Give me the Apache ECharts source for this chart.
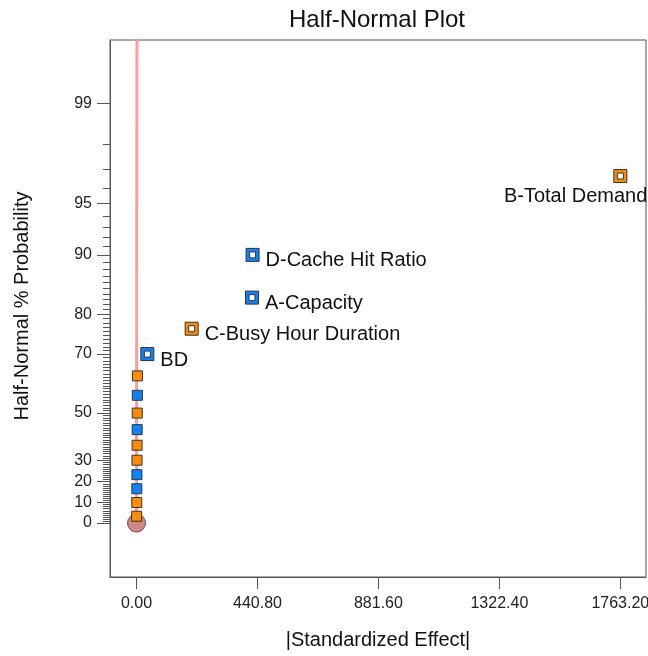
<!DOCTYPE html>
<html>
<head>
<meta charset="utf-8">
<script src="https://cdn.jsdelivr.net/npm/echarts@6/dist/echarts.min.js"></script>
<style>
    html, body { margin: 0; padding: 0; background: #fff; }
    #chart { width: 648px; height: 656px; }
</style>
</head>
<body>
<div id="chart"></div>
<script>
    // effects, sorted by |effect| (rank 1 .. 15)
    const effectNames = ['', '', '', '', '', '', '', '', '', '',
        'BD', 'C-Busy Hour Duration', 'A-Capacity', 'D-Cache Hit Ratio', 'B-Total Demand'];
    const effectSize = [0.6, 0.9, 1.2, 1.5, 1.8, 2.1, 2.4, 2.7, 3.0, 3.3,
        39.4, 201, 421, 423, 1763.2];
    const effectPositive = [1, 1, 0, 0, 1, 1, 0, 1, 0, 1, 0, 1, 0, 0, 1];
    const halfNormalPct = [3.33, 10, 16.67, 23.33, 30, 36.67, 43.33, 50, 56.67, 63.33,
        70, 76.67, 83.33, 90, 96.67];

    // reference line through origin
    const refLineEffect = [0, 1.5];
    const refLinePct = [0, 99.7];

    // axis ticks
    const xTicks = [0, 440.8, 881.6, 1322.4, 1763.2];
    const yMajorPct = [0, 10, 20, 30, 50, 70, 80, 90, 95, 99];
    const yMinorPct = [];
    for (let i = 1; i < 99; i++) {
        if (yMajorPct.indexOf(i) < 0) yMinorPct.push(i);
    }

    const ORANGE = '#ff8c00';
    const BLUE = '#0a84ff';
    const EDGE = '#333333';
    const FONT = 'Arial, "Liberation Sans", sans-serif';

    // inverse normal cdf (Acklam)
    function normInv(p) {
        const a = [-3.969683028665376e+01, 2.209460984245205e+02, -2.759285104469687e+02, 1.383577518672690e+02, -3.066479806614716e+01, 2.506628277459239e+00];
        const b = [-5.447609879822406e+01, 1.615858368580409e+02, -1.556989798598866e+02, 6.680131188771972e+01, -1.328068155288572e+01];
        const c = [-7.784894002430293e-03, -3.223964580411365e-01, -2.400758277161838e+00, -2.549732539343734e+00, 4.374664141464968e+00, 2.938163982698783e+00];
        const d = [7.784695709041462e-03, 3.224671290700398e-01, 2.445134137142996e+00, 3.754408661907416e+00];
        const pl = 0.02425, ph = 1 - pl;
        let q, r;
        if (p < pl) {
            q = Math.sqrt(-2 * Math.log(p));
            return (((((c[0] * q + c[1]) * q + c[2]) * q + c[3]) * q + c[4]) * q + c[5]) / ((((d[0] * q + d[1]) * q + d[2]) * q + d[3]) * q + 1);
        }
        if (p <= ph) {
            q = p - 0.5; r = q * q;
            return (((((a[0] * r + a[1]) * r + a[2]) * r + a[3]) * r + a[4]) * r + a[5]) * q / (((((b[0] * r + b[1]) * r + b[2]) * r + b[3]) * r + b[4]) * r + 1);
        }
        q = Math.sqrt(-2 * Math.log(1 - p));
        return -(((((c[0] * q + c[1]) * q + c[2]) * q + c[3]) * q + c[4]) * q + c[5]) / ((((d[0] * q + d[1]) * q + d[2]) * q + d[3]) * q + 1);
    }
    // half-normal probability scale
    function hn(pct) {
        return pct === 0 ? 0 : normInv(0.5 + pct / 200);
    }

    const yMajor = yMajorPct.map(hn);
    const yMinor = yMinorPct.map(hn);

    const smallData = [];
    const bigData = [];
    const innerData = [];
    for (let i = 0; i < effectSize.length; i++) {
        const col = effectPositive[i] ? ORANGE : BLUE;
        const pt = [effectSize[i], hn(halfNormalPct[i])];
        if (effectNames[i]) {
            const isLast = i === effectSize.length - 1;
            bigData.push({
                value: pt,
                name: effectNames[i],
                itemStyle: { color: col },
                label: isLast
                    ? { position: 'bottom', align: 'right', distance: 3, offset: [27, 0] }
                    : { position: 'right', distance: 6, offset: [0, 6] }
            });
            innerData.push(pt);
        } else {
            smallData.push({ value: pt, itemStyle: { color: col } });
        }
    }

    const chart = echarts.init(document.getElementById('chart'));
    chart.setOption({
        animation: false,
        textStyle: { fontFamily: FONT },
        graphic: [
            { type: 'text', x: 377, y: 20, style: { text: 'Half-Normal Plot', font: '24px ' + FONT, fill: '#111', align: 'center', verticalAlign: 'middle' } },
            { type: 'text', x: 378, y: 640, style: { text: '|Standardized Effect|', font: '20px ' + FONT, fill: '#111', align: 'center', verticalAlign: 'middle' } },
            { type: 'text', x: 22, y: 306, rotation: Math.PI / 2, style: { text: 'Half-Normal % Probability', font: '20px ' + FONT, fill: '#111', align: 'center', verticalAlign: 'middle' } }
        ],
        grid: {
            left: 110, top: 40, right: 2, bottom: 79,
            containLabel: false, outerBoundsMode: 'none',
            show: true, borderColor: '#555', borderWidth: 1, backgroundColor: '#fff'
        },
        xAxis: {
            type: 'value',
            min: -96.6, max: 1856.8,
            splitLine: { show: false },
            axisLine: { onZero: false, lineStyle: { color: '#555' } },
            axisTick: { customValues: xTicks, length: 12, lineStyle: { color: '#555' } },
            axisLabel: {
                customValues: xTicks, margin: 19, fontSize: 16, color: '#222',
                formatter: v => v.toFixed(2)
            }
        },
        yAxis: [{
            type: 'value',
            min: -0.331, max: 2.963,
            splitLine: { show: false },
            axisLine: { show: true, onZero: false, lineStyle: { color: '#555' } },
            axisTick: { show: true, customValues: yMajor, length: 13, lineStyle: { color: '#555' } },
            axisLabel: {
                customValues: yMajor, margin: 18, fontSize: 16, color: '#222',
                formatter: function (v) {
                    for (let i = 0; i < yMajor.length; i++) {
                        if (Math.abs(yMajor[i] - v) < 1e-6) return String(yMajorPct[i]);
                    }
                    return '';
                }
            }
        }, {
            type: 'value',
            position: 'left',
            min: -0.331, max: 2.963,
            splitLine: { show: false },
            axisLine: { show: false, onZero: false },
            axisTick: { show: true, customValues: yMinor, length: 7, lineStyle: { color: '#555' } },
            axisLabel: { show: false }
        }],
        series: [{
            type: 'line',
            data: refLineEffect.map((x, i) => [x, hn(refLinePct[i])]),
            symbol: 'none',
            lineStyle: { color: '#ff9c9c', width: 3 },
            z: 1
        }, {
            type: 'scatter',
            data: [[0, hn(0)]],
            symbol: 'circle',
            symbolSize: 18,
            itemStyle: { color: '#c86a6a', borderColor: '#5a2c2c', borderWidth: 1 },
            z: 2
        }, {
            type: 'scatter',
            data: smallData,
            symbol: 'rect',
            symbolSize: 10,
            itemStyle: { borderColor: EDGE, borderWidth: 1, opacity: 1 },
            z: 3
        }, {
            type: 'scatter',
            data: bigData,
            symbol: 'rect',
            symbolSize: 13,
            itemStyle: { borderColor: EDGE, borderWidth: 1, opacity: 1 },
            label: {
                show: true,
                formatter: '{b}',
                fontSize: 20,
                color: '#111'
            },
            z: 4
        }, {
            type: 'scatter',
            data: innerData,
            symbol: 'rect',
            symbolSize: 6,
            itemStyle: { color: '#fff', borderColor: EDGE, borderWidth: 1, opacity: 1 },
            silent: true,
            z: 5
        }]
    });
</script>
</body>
</html>
